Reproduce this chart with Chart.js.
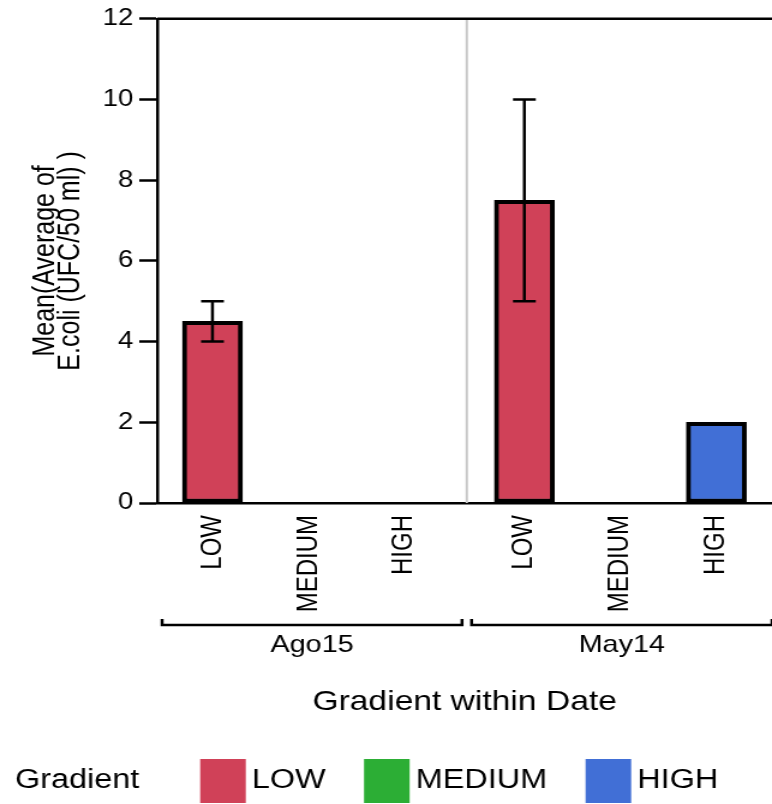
<!DOCTYPE html>
<html>
<head>
<meta charset="utf-8">
<script src="https://cdn.jsdelivr.net/npm/chart.js@4.4.1/dist/chart.umd.min.js"></script>
<style>
  html, body { margin: 0; padding: 0; background: #fff; overflow: hidden; }
  /* the drawing is made on a narrower canvas and widened by CSS */
  #c { display: block; width: 772px !important; height: 804px !important; }
</style>
</head>
<body>
<canvas id="c" width="643" height="804" style="width:772px;height:804px"></canvas>
<script>
// ---- data ----
const dates = ['Ago15', 'May14'];
const gradients = ['LOW', 'MEDIUM', 'HIGH'];
// mean E.coli per gradient (null = no sample)
const meanAgo15 = [4.5, null, null];
const meanMay14 = [7.5, null, 2.0];
// error bar ends per gradient
const errLowAgo15 = [4.0, null, null];
const errHighAgo15 = [5.0, null, null];
const errLowMay14 = [5.0, null, null];
const errHighMay14 = [10.0, null, null];
const yTickValues = [0, 2, 4, 6, 8, 10, 12];

// ---- styling ----
const means = [meanAgo15, meanMay14];
const errLow = [errLowAgo15, errLowMay14];
const errHigh = [errHighAgo15, errHighMay14];
const colors = ['#d04158', '#2cae35', '#416fd6'];
const FONT = '"Liberation Sans", Arial, Helvetica, sans-serif';
const GROUP_GAP = 0.25;                 // extra space between date groups, in slots
const slot = (di, gi) => di * (gradients.length + GROUP_GAP) + gi;
const tickSlots = [];
dates.forEach((d, di) => gradients.forEach((g, gi) => tickSlots.push(slot(di, gi))));
const X_MIN = -0.575;
const X_MAX = slot(dates.length - 1, gradients.length - 1) + 0.58;

const datasets = gradients.map((g, gi) => ({
  label: g,
  data: dates.map((d, di) => ({ x: slot(di, gi), y: means[di][gi] })),
  backgroundColor: colors[gi],
  borderColor: '#000',
  borderWidth: 4,
  borderSkipped: false,
  barThickness: 50,
  grouped: false
}));

// frame, divider, error bars, date brackets and legend
const decorations = {
  id: 'decorations',
  beforeDatasetsDraw(chart) {
    const { ctx, chartArea: a, scales: { x } } = chart;
    ctx.save();
    // vertical divider between the dates
    ctx.strokeStyle = '#c8c8c8';
    ctx.lineWidth = 2;
    for (let di = 1; di < dates.length; di++) {
      const px = x.getPixelForValue((slot(di - 1, gradients.length - 1) + slot(di, 0)) / 2) + 2;
      ctx.beginPath(); ctx.moveTo(px, a.top); ctx.lineTo(px, a.bottom); ctx.stroke();
    }
    // top border of the plot
    ctx.strokeStyle = '#000';
    ctx.lineWidth = 2.5;
    ctx.beginPath(); ctx.moveTo(a.left, a.top); ctx.lineTo(a.right, a.top); ctx.stroke();
    ctx.restore();
  },
  afterDatasetsDraw(chart) {
    const { ctx, scales: { x, y } } = chart;
    ctx.save();
    ctx.strokeStyle = '#000';
    ctx.lineWidth = 2.5;
    const cap = 9.5;
    dates.forEach((d, di) => gradients.forEach((g, gi) => {
      const lo = errLow[di][gi], hi = errHigh[di][gi];
      if (lo == null || hi == null) return;
      const px = x.getPixelForValue(slot(di, gi));
      const yl = y.getPixelForValue(lo), yh = y.getPixelForValue(hi);
      ctx.beginPath();
      ctx.moveTo(px, yl); ctx.lineTo(px, yh);
      ctx.moveTo(px - cap, yl); ctx.lineTo(px + cap, yl);
      ctx.moveTo(px - cap, yh); ctx.lineTo(px + cap, yh);
      ctx.stroke();
    }));
    ctx.restore();
  },
  afterDraw(chart) {
    const { ctx, chartArea: a, scales: { x } } = chart;
    ctx.save();
    // date brackets with their labels
    const bounds = [a.left];
    for (let di = 1; di < dates.length; di++) {
      bounds.push(x.getPixelForValue((slot(di - 1, gradients.length - 1) + slot(di, 0)) / 2) + 2);
    }
    bounds.push(a.right + 4);
    const by = 625;
    ctx.strokeStyle = '#000';
    ctx.lineWidth = 2.5;
    ctx.fillStyle = '#000';
    ctx.font = '24px ' + FONT;
    ctx.textAlign = 'center';
    ctx.textBaseline = 'middle';
    dates.forEach((d, di) => {
      const x0 = bounds[di] + 4, x1 = bounds[di + 1] - 4;
      ctx.beginPath();
      ctx.moveTo(x0, by - 6); ctx.lineTo(x0, by); ctx.lineTo(x1, by); ctx.lineTo(x1, by - 6);
      ctx.stroke();
      ctx.fillText(d, (x0 + x1) / 2, 645);
    });
    // legend
    const ly = 781;
    ctx.font = '27px ' + FONT;
    ctx.textAlign = 'left';
    ctx.fillText('Gradient', 12.5, ly);
    let lx = 166.7;
    chart.data.datasets.forEach(ds => {
      ctx.fillStyle = ds.backgroundColor;
      ctx.fillRect(lx, ly - 22, 38, 44);
      ctx.fillStyle = '#000';
      ctx.fillText(ds.label, lx + 43, ly);
      lx += 43 + ctx.measureText(ds.label).width + 32;
    });
    ctx.restore();
  }
};

new Chart(document.getElementById('c'), {
  type: 'bar',
  data: { datasets },
  plugins: [decorations],
  options: {
    responsive: false,
    animation: false,
    devicePixelRatio: 1,
    layout: { padding: { top: 14.5, left: 0, right: 0, bottom: 0 } },
    plugins: { legend: { display: false }, tooltip: { enabled: false } },
    scales: {
      x: {
        type: 'linear',
        offset: false,
        min: X_MIN,
        max: X_MAX,
        afterFit: s => { s.height = 301; },
        afterBuildTicks: s => { s.ticks = tickSlots.map(v => ({ value: v })); },
        grid: { display: false, drawTicks: false, offset: false },
        border: { display: true, color: '#000', width: 2.5 },
        ticks: {
          autoSkip: false,
          minRotation: 90,
          maxRotation: 90,
          padding: 12,
          color: '#000',
          font: { family: FONT, size: 24 },
          callback: (v, i) => gradients[i % gradients.length]
        },
        title: {
          display: true,
          text: 'Gradient within Date',
          color: '#000',
          font: { family: FONT, size: 28 },
          padding: { top: 0, bottom: 85 }
        }
      },
      y: {
        min: 0,
        max: 12,
        afterFit: s => { s.width = 131; },
        afterBuildTicks: s => { s.ticks = yTickValues.map(v => ({ value: v })); },
        grid: { drawOnChartArea: false, tickLength: 15, tickWidth: 2.5, tickColor: '#000' },
        border: { display: true, color: '#000', width: 2.5 },
        ticks: { padding: 5, color: '#000', font: { family: FONT, size: 23 } },
        title: {
          display: true,
          text: ['Mean(Average of', 'E.coli (UFC/50 ml) )'],
          color: '#000',
          font: { family: FONT, size: 25, lineHeight: 0.84 },
          padding: { top: 28, bottom: 0 }
        }
      }
    }
  }
});
</script>
</body>
</html>
